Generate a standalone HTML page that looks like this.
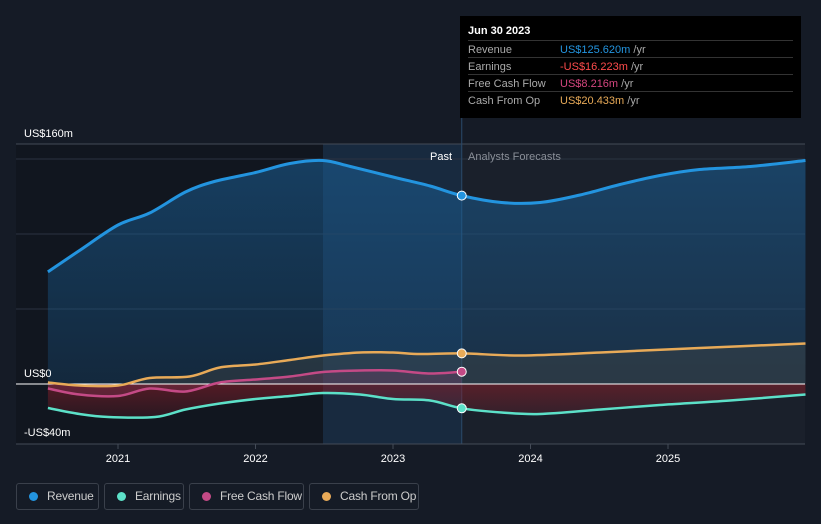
<!DOCTYPE html>
<html><head><meta charset="utf-8"><style>
body{margin:0;background:#151b26;font-family:"Liberation Sans",sans-serif;}
#wrap{position:relative;width:821px;height:524px;overflow:hidden;background:#151b26;}
.tt{position:absolute;left:460px;top:16px;width:341px;height:102px;background:#000;color:#fff;font-size:11px;}
.tt .row{position:absolute;left:8px;width:325px;height:17px;border-top:1px solid #333;}
.tt .lab{position:absolute;left:0;top:3px;color:#aaa;}
.tt .val{position:absolute;left:92px;top:3px;}
.leg{position:absolute;top:483px;height:27px;border:1px solid #3a404b;border-radius:3px;color:#ccc;font-size:12px;box-sizing:border-box;line-height:25px;padding-left:30px;white-space:nowrap;letter-spacing:-0.2px;}
.leg i{position:absolute;left:12px;top:8px;width:9px;height:9px;border-radius:50%;}
</style></head><body>
<div id="wrap">
<svg id="chart" width="821" height="524" style="position:absolute;left:0;top:0"></svg>
<div class="tt">
<div style="position:absolute;left:8px;top:9px;font-size:11px;font-weight:bold">Jun 30 2023</div>
<div class="row" style="top:24px"><span class="lab">Revenue</span><span class="val"><span style="color:#2394df">US$125.620m</span> <span style="color:#aaa">/yr</span></span></div>
<div class="row" style="top:41px"><span class="lab">Earnings</span><span class="val"><span style="color:#ff4c4c">-US$16.223m</span> <span style="color:#aaa">/yr</span></span></div>
<div class="row" style="top:58px"><span class="lab">Free Cash Flow</span><span class="val"><span style="color:#d4467f">US$8.216m</span> <span style="color:#aaa">/yr</span></span></div>
<div class="row" style="top:75px"><span class="lab">Cash From Op</span><span class="val"><span style="color:#e8aa58">US$20.433m</span> <span style="color:#aaa">/yr</span></span></div>
</div>
<div class="leg" style="left:16px;width:83px"><i style="background:#2394df"></i>Revenue</div>
<div class="leg" style="left:104px;width:80px"><i style="background:#5ce0c8"></i>Earnings</div>
<div class="leg" style="left:189px;width:115px"><i style="background:#c44a86"></i>Free Cash Flow</div>
<div class="leg" style="left:309px;width:110px"><i style="background:#e8aa58"></i>Cash From Op</div>
</div>
<script>
const revT=[2020.49,2020.72,2021.0,2021.23,2021.49,2021.7,2022.0,2022.25,2022.49,2022.69,2023.0,2023.27,2023.5,2023.79,2024.07,2024.36,2024.65,2024.94,2025.23,2025.6,2026.0];
const revV=[74.7,89,106,114,128,135,141,147,149,145,138,132,125.6,121,121,126,133,139,143,145,149];
const earnT=[2020.49,2020.72,2020.93,2021.27,2021.49,2021.74,2022.0,2022.25,2022.49,2022.76,2023.0,2023.27,2023.5,2023.79,2024.07,2024.51,2024.94,2025.45,2026.0];
const earnV=[-16,-20,-22,-22,-17,-13,-10,-8,-6,-7,-10,-11,-16.2,-19,-20,-17,-14,-11,-7];
const fcfT=[2020.49,2020.72,2021.0,2021.23,2021.49,2021.74,2022.0,2022.25,2022.49,2022.76,2023.0,2023.27,2023.5];
const fcfV=[-3,-7,-8,-3,-5,1,3,5,8,9,9,7,8.2];
const cfoT=[2020.49,2020.72,2021.0,2021.23,2021.52,2021.74,2022.0,2022.25,2022.49,2022.76,2023.0,2023.2,2023.5,2023.93,2024.51,2025.23,2026.0];
const cfoV=[1,-1,-1,4,5,11,13,16,19,21,21,20,20.4,19,21,24,27];
const xTicks=[2021,2022,2023,2024,2025];
const yGrid=[150,100,50];
const NS="http://www.w3.org/2000/svg";
const svg=document.getElementById('chart');
const X=t=>118+(t-2021)*137.5;
const Y=v=>384-v*1.5;
function el(tag,a,name,parent){const e=document.createElementNS(NS,tag);for(const k in a)e.setAttribute(k,a[k]);


(parent||svg).appendChild(e);return e;}
function path(T,V){const P=T.map((t,i)=>[X(t),Y(V[i])]);let d='M'+P[0][0].toFixed(1)+','+P[0][1].toFixed(1);
for(let i=0;i<P.length-1;i++){const p0=P[i-1]||P[i],p1=P[i],p2=P[i+1],p3=P[i+2]||P[i+1];
const c1=[p1[0]+(p2[0]-p0[0])/6,p1[1]+(p2[1]-p0[1])/6],c2=[p2[0]-(p3[0]-p1[0])/6,p2[1]-(p3[1]-p1[1])/6];
d+=' C'+c1.map(v=>v.toFixed(1)).join(',')+' '+c2.map(v=>v.toFixed(1)).join(',')+' '+p2.map(v=>v.toFixed(1)).join(',');}
return d;}
function area(T,V){return path(T,V)+' L'+X(T[T.length-1]).toFixed(1)+','+Y(0)+' L'+X(T[0]).toFixed(1)+','+Y(0)+' Z';}
const defs=el('defs',{},'defs');
defs.innerHTML='<linearGradient id="gr" x1="0" y1="0" x2="0" y2="1"><stop offset="0" stop-color="#1a5f96" stop-opacity="0.55"/><stop offset="1" stop-color="#1a5f96" stop-opacity="0.25"/></linearGradient><linearGradient id="gn" x1="0" y1="0" x2="0" y2="1"><stop offset="0" stop-color="#8a1f2a" stop-opacity="0.55"/><stop offset="1" stop-color="#8a1f2a" stop-opacity="0.2"/></linearGradient>';
el('rect',{x:16,y:144,width:307,height:300,fill:'#11161f'},'past-background');
el('rect',{x:323,y:144,width:X(2023.5)-323,height:300,fill:'#1b3550',opacity:0.6},'highlight-region');
el('rect',{x:X(2023.5),y:144,width:805-X(2023.5),height:300,fill:'#1a202b'},'forecast-background');
el('line',{x1:16,x2:805,y1:144,y2:144,stroke:'#444b57'},'top-gridline');
yGrid.forEach(v=>el('line',{x1:16,x2:805,y1:Y(v),y2:Y(v),stroke:'#2b3340'},'gridline'));
el('line',{x1:X(2023.5),x2:X(2023.5),y1:16,y2:444,stroke:'#2a4a6a'},'today-line');
el('path',{d:area(revT,revV),fill:'url(#gr)'},'revenue-area');
el('path',{d:area(earnT,earnV),fill:'url(#gn)'},'earnings-area');
el('path',{d:area(cfoT,cfoV),fill:'#4a4a45',opacity:0.35},'cfo-area');
el('path',{d:area(fcfT,fcfV),fill:'#a0406a',opacity:0.25},'fcf-area');
el('line',{x1:16,x2:805,y1:Y(0),y2:Y(0),stroke:'#fff','stroke-width':1},'zero-line');
el('line',{x1:16,x2:805,y1:444,y2:444,stroke:'#444b57'},'x-axis-line');
[['rev',revT,revV,'#2394df'],['earn',earnT,earnV,'#5ce0c8'],['fcf',fcfT,fcfV,'#c44a86'],['cfo',cfoT,cfoV,'#e8aa58']].forEach(s=>{
 el('path',{d:path(s[1],s[2]),fill:'none',stroke:s[3],'stroke-width':s[0]==='rev'?3:2.5,'stroke-linejoin':'round'},s[0]+'-line');
 const i=s[1].indexOf(2023.5);
 el('circle',{cx:X(2023.5),cy:Y(s[2][i]),r:4.5,fill:s[3],stroke:'#fff','stroke-width':1},s[0]+'-marker');
});
xTicks.forEach(t=>{el('line',{x1:X(t),x2:X(t),y1:444,y2:449,stroke:'#444b57'},'x-tick');
 const tx=el('text',{x:X(t),y:462,fill:'#fff','font-size':11,'text-anchor':'middle','font-family':'Liberation Sans'},'x-tick-label');tx.textContent=t;});
[['US$160m',137],['US$0',377],['-US$40m',436]].forEach(a=>{const tx=el('text',{x:24,y:a[1],fill:'#fff','font-size':11,'font-family':'Liberation Sans'},'y-axis-label');tx.textContent=a[0];});
let t1=el('text',{x:452,y:160,fill:'#fff','font-size':11,'text-anchor':'end'},'past-label');t1.textContent='Past';
let t2=el('text',{x:468,y:160,fill:'#8a8f98','font-size':11},'forecast-label');t2.textContent='Analysts Forecasts';
</script>
</body></html>
